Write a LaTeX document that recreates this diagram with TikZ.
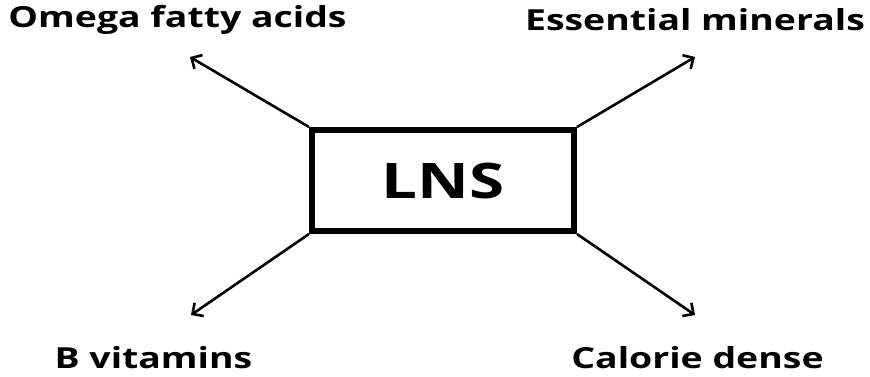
\documentclass[tikz,border=0pt]{standalone}
\usepackage{fontspec}
\setmainfont{Open Sans}
\usetikzlibrary{arrows.meta}
\begin{document}
\begin{tikzpicture}[x=1pt,y=-1pt,
  lbl/.style={font=\fontsize{29}{32}\selectfont\bfseries, inner sep=0pt, anchor=center, xscale=1.29},
  conn/.style={line width=2.6pt, -{Straight Barb[length=8pt,width=16pt,line width=2.6pt]}},
  box/.style={draw, line width=6pt, minimum width=262pt, minimum height=101pt, inner sep=0pt, font=\fontsize{49}{54}\selectfont\bfseries}]
\useasboundingbox (0,0) rectangle (870,376);
\node[box] (lns) at (443,180.5) {\scalebox{1.3}[1]{LNS}};
\node[lbl] (omega) at (177.5,20) {Omega fatty acids};
\node[lbl] (ess) at (695,20) {Essential minerals};
\node[lbl] (bvit) at (153.5,358) {B vitamins};
\node[lbl] (cal) at (697.5,358) {Calorie dense};
\coordinate (tl) at (190,57);
\coordinate (tr) at (695,57);
\coordinate (bl) at (191,315);
\coordinate (br) at (695,315);
\draw[conn] (lns.north west) -- (tl);
\draw[conn] (lns.north east) -- (tr);
\draw[conn] (lns.south west) -- (bl);
\draw[conn] (lns.south east) -- (br);
\end{tikzpicture}
\end{document}
